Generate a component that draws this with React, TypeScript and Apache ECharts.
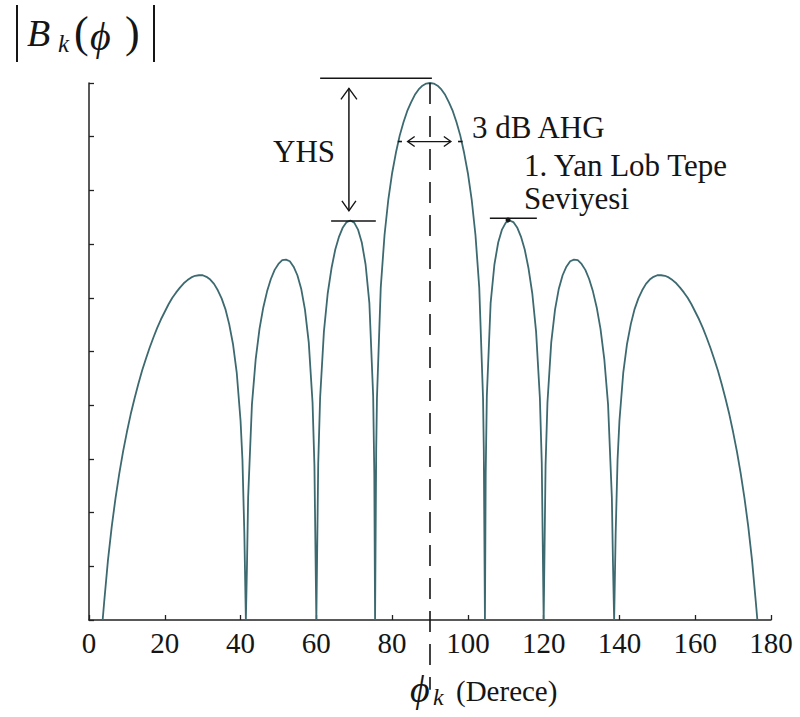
import React, { useEffect, useRef } from "react";
import * as echarts from "echarts";

// ---- data: array-factor magnitude |B_k(phi)| (normalised level), phi in degrees ----
const PATTERN_LEFT: [number, number][] = [
  [3.6, 0], [4, 0.033], [5, 0.111], [6, 0.174], [7, 0.227], [8, 0.273], [9, 0.314], [10, 0.35],
  [11, 0.383], [12, 0.412], [13, 0.439], [14, 0.464], [15, 0.486], [16, 0.507], [17, 0.526],
  [18, 0.544], [19, 0.56], [20, 0.574], [21, 0.588], [22, 0.6], [23, 0.61], [24, 0.619],
  [25, 0.627], [26, 0.633], [27, 0.638], [28, 0.641], [29, 0.642], [30, 0.642], [31, 0.639],
  [32, 0.634], [33, 0.626], [34, 0.614], [35, 0.599], [36, 0.579], [37, 0.551], [38, 0.514],
  [39, 0.46], [40, 0.371], [40.5, 0.298], [41, 0.161], [41.4, 0], [41.7, 0.103], [42, 0.228],
  [43, 0.401], [44, 0.486], [45, 0.542], [46, 0.582], [47, 0.612], [48, 0.635], [49, 0.652],
  [50, 0.663], [51, 0.67], [52, 0.671], [53, 0.668], [54, 0.658], [55, 0.642], [56, 0.617],
  [57, 0.578], [58, 0.517], [59, 0.405], [59.5, 0.287], [60, 0], [60.5, 0.292], [61, 0.414],
  [62, 0.537], [63, 0.608], [64, 0.655], [65, 0.69], [66, 0.714], [67, 0.731], [68, 0.741],
  [69, 0.744], [70, 0.74], [71, 0.727], [72, 0.703], [73, 0.662], [74, 0.59], [75, 0.417],
  [75.3, 0.273], [75.5, 0], [75.8, 0.317], [76, 0.413], [77, 0.619], [78, 0.717], [79, 0.783],
  [80, 0.832], [81, 0.87], [82, 0.902], [83, 0.927], [84, 0.948], [85, 0.964], [86, 0.978],
  [87, 0.988], [88, 0.995], [89, 0.999], [90, 1.0],
];

const PATTERN_RIGHT: [number, number][] = [
  [91, 0.999], [92, 0.995], [93, 0.988], [94, 0.978], [95, 0.964], [96, 0.948], [97, 0.927],
  [98, 0.902], [99, 0.87], [100, 0.832], [101, 0.783], [102, 0.717], [103, 0.619], [104, 0.413],
  [104.2, 0.317], [104.5, 0], [104.7, 0.273], [105, 0.417], [106, 0.59], [107, 0.662],
  [108, 0.703], [109, 0.727], [110, 0.74], [111, 0.744], [112, 0.741], [113, 0.731], [114, 0.714],
  [115, 0.69], [116, 0.655], [117, 0.608], [118, 0.537], [119, 0.414], [119.5, 0.292], [120, 0],
  [120.5, 0.287], [121, 0.405], [122, 0.517], [123, 0.578], [124, 0.617], [125, 0.642],
  [126, 0.658], [127, 0.668], [128, 0.671], [129, 0.67], [130, 0.663], [131, 0.652], [132, 0.635],
  [133, 0.612], [134, 0.582], [135, 0.542], [136, 0.486], [137, 0.401], [138, 0.228],
  [138.3, 0.103], [138.6, 0], [139, 0.161], [139.5, 0.298], [140, 0.371], [141, 0.46],
  [142, 0.514], [143, 0.551], [144, 0.579], [145, 0.599], [146, 0.614], [147, 0.626], [148, 0.634],
  [149, 0.639], [150, 0.642], [151, 0.642], [152, 0.641], [153, 0.638], [154, 0.633], [155, 0.627],
  [156, 0.619], [157, 0.61], [158, 0.6], [159, 0.588], [160, 0.574], [161, 0.56], [162, 0.544],
  [163, 0.526], [164, 0.507], [165, 0.486], [166, 0.464], [167, 0.439], [168, 0.412], [169, 0.383],
  [170, 0.35], [171, 0.314], [172, 0.273], [173, 0.227], [174, 0.174], [175, 0.111], [176, 0.033],
  [176.4, 0],
];

const X_TICKS = [0, 20, 40, 60, 80, 100, 120, 140, 160, 180];
const Y_TICKS = [0, 0.1, 0.2, 0.3, 0.4, 0.5, 0.6, 0.7, 0.8, 0.9, 1.0];

const SERIF = "Liberation Serif";
const INK = "#151515";
const CURVE = "#3c6a70";

export default function App() {
  const ref = useRef<HTMLDivElement>(null);

  useEffect(() => {
    if (!ref.current) return;
    const chart = echarts.init(ref.current, undefined, { renderer: "svg" });
    chart.setOption({
      animation: false,
      backgroundColor: "#ffffff",
      grid: { left: 89, right: 29, top: 83, bottom: 97, containLabel: false },
      xAxis: {
        type: "value",
        min: X_TICKS[0],
        max: X_TICKS[X_TICKS.length - 1],
        interval: X_TICKS[1] - X_TICKS[0],
        axisLine: { show: true, onZero: false, lineStyle: { color: "#222", width: 1.5 } },
        axisTick: { show: true, inside: true, length: 5, lineStyle: { color: "#222", width: 1.3 } },
        axisLabel: { show: true, fontFamily: SERIF, fontSize: 29, color: INK, margin: 8 },
        splitLine: { show: false },
      },
      yAxis: {
        type: "value",
        min: Y_TICKS[0],
        max: Y_TICKS[Y_TICKS.length - 1],
        interval: Y_TICKS[1] - Y_TICKS[0],
        axisLine: { show: true, lineStyle: { color: "#222", width: 1.5 } },
        axisTick: { show: true, inside: true, length: 5, lineStyle: { color: "#222", width: 1.3 } },
        axisLabel: { show: false },
        splitLine: { show: false },
      },
      series: [
        {
          type: "line",
          data: [...PATTERN_LEFT, ...PATTERN_RIGHT],
          showSymbol: false,
          symbol: "none",
          lineStyle: { color: CURVE, width: 1.8 },
          z: 3,
        },
      ],
    });

    const px = (p: [number, number]) => chart.convertToPixel({ seriesIndex: 0 }, p) as number[];
    const line = (a: number[], b: number[], extra: any = {}) => ({
      type: "line",
      shape: { x1: a[0], y1: a[1], x2: b[0], y2: b[1] },
      style: { stroke: INK, lineWidth: 1.5, ...extra },
      z: 10,
    });
    const poly = (pts: number[][]) => ({
      type: "polyline",
      shape: { points: pts },
      style: { stroke: INK, lineWidth: 1.4, fill: "none" },
      z: 10,
    });
    const text = (t: string, x: number, y: number, size: number, italic = false) => ({
      type: "text",
      x,
      y,
      style: {
        text: t,
        font: `${italic ? "italic " : ""}${size}px "${SERIF}"`,
        fill: INK,
        align: "left",
        verticalAlign: "middle",
      },
      z: 10,
    });

    // anchors in data space
    const topL = px([61, 1.009]);
    const topR = px([90.5, 1.009]);
    const arrTop = px([68.6, 0.99]);
    const arrBot = px([68.6, 0.762]);
    const slL1 = px([63.9, 0.743]);
    const slL2 = px([75.7, 0.743]);
    const slR1 = px([105.8, 0.748]);
    const slR2 = px([118.2, 0.748]);
    const slDot = px([110.6, 0.745]);
    const hp1 = px([84.1, 0.891]);
    const hp2 = px([95.5, 0.891]);
    const mk1a = px([81.5, 0.891]);
    const mk1b = px([82.6, 0.891]);
    const mk2a = px([97.4, 0.891]);
    const mk2b = px([98.6, 0.891]);
    const dTop = px([90, 1.0]);
    const dBot = px([90, -0.13]);

    chart.setOption({
      graphic: [
        line(dTop, dBot, { lineDash: [21, 12], lineWidth: 1.6 }),
        line(topL, topR),
        line(arrTop, arrBot),
        poly([[arrTop[0] - 8, arrTop[1] + 11], arrTop, [arrTop[0] + 8, arrTop[1] + 11]]),
        poly([[arrBot[0] - 7, arrBot[1] - 10], arrBot, [arrBot[0] + 7, arrBot[1] - 10]]),
        line(slL1, slL2),
        line(slR1, slR2),
        { type: "circle", shape: { cx: slDot[0], cy: slDot[1], r: 2.5 }, style: { fill: INK }, z: 10 },
        line(hp1, hp2, { lineWidth: 1.3 }),
        poly([[hp1[0] + 7, hp1[1] - 5], hp1, [hp1[0] + 7, hp1[1] + 5]]),
        poly([[hp2[0] - 7, hp2[1] - 5], hp2, [hp2[0] - 7, hp2[1] + 5]]),
        line(mk1a, mk1b, { lineWidth: 1.6 }),
        line(mk2a, mk2b, { lineWidth: 1.6 }),
        text("YHS", 273, 151, 31),
        text("3 dB AHG", 472, 127, 31),
        text("1. Yan Lob Tepe", 524, 165, 31),
        text("Seviyesi", 524, 198, 31),
        // y-axis title |B_k(phi)|
        line([17, 5], [17, 62], { lineWidth: 2 }),
        line([154, 5], [154, 62], { lineWidth: 2 }),
        text("B", 27, 33, 38, true),
        text("k", 58, 43, 25, true),
        text("(", 74, 32, 44),
        text("\u03D5", 90, 36, 40, true),
        text(")", 125, 32, 44),
        // x-axis title
        text("\u03D5", 410, 689, 38, true),
        text("k", 433, 697, 24, true),
        text("(Derece)", 456, 691, 29),
      ],
    });

    return () => chart.dispose();
  }, []);

  return (
    <div
      ref={ref}
      style={{ position: "absolute", left: 0, top: 0, width: 800, height: 717, background: "#fff" }}
    />
  );
}
